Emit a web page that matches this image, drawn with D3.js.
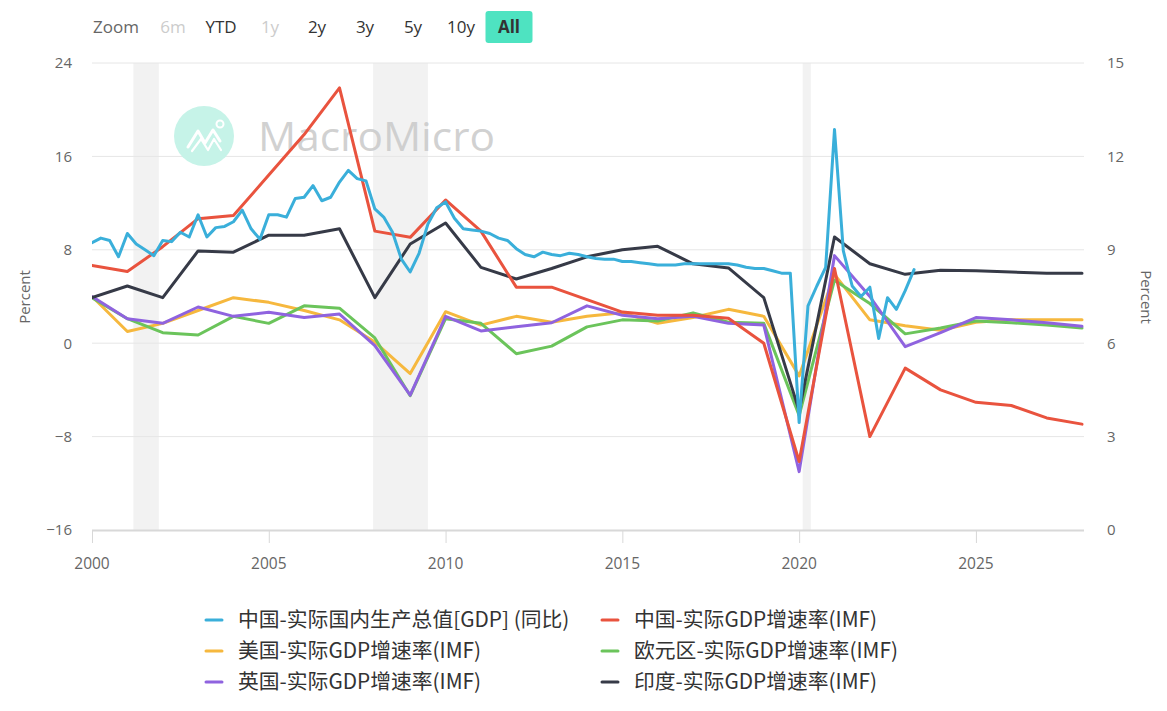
<!DOCTYPE html>
<html>
<head>
<meta charset="utf-8">
<script src="https://cdn.jsdelivr.net/npm/d3@7"></script>
<style>
  html, body { margin: 0; padding: 0; background: #fff; }
  svg { display: block; font-family: "Open Sans", "Noto Sans CJK SC", sans-serif; }
</style>
</head>
<body>
<svg id="chart" width="1167" height="711"></svg>
<script>
// ---------- DATA ----------
const imfYears = [2000,2001,2002,2003,2004,2005,2006,2007,2008,2009,2010,2011,2012,2013,2014,2015,2016,2017,2018,2019,2020,2021,2022,2023,2024,2025,2026,2027,2028];
const chinaIMF = [8.5,8.3,9.1,10.0,10.1,11.4,12.7,14.2,9.6,9.4,10.6,9.6,7.8,7.8,7.4,7.0,6.9,6.9,6.8,6.0,2.2,8.4,3.0,5.2,4.5,4.1,4.0,3.6,3.4];
const usIMF    = [4.0,1.0,1.7,2.8,3.9,3.5,2.8,2.0,0.1,-2.6,2.7,1.55,2.3,1.8,2.3,2.6,1.7,2.2,2.9,2.3,-2.8,5.9,2.0,1.5,1.1,1.8,2.0,2.0,2.0];
const euroIMF  = [3.9,2.1,0.9,0.7,2.3,1.7,3.2,3.0,0.45,-4.5,2.1,1.7,-0.9,-0.25,1.4,2.0,1.9,2.6,1.8,1.7,-6.2,5.4,3.4,0.8,1.3,1.9,1.75,1.55,1.3];
const ukIMF    = [4.0,2.1,1.7,3.1,2.3,2.65,2.2,2.5,-0.2,-4.45,2.3,1.05,1.4,1.75,3.2,2.4,2.1,2.3,1.7,1.55,-11.0,7.5,4.0,-0.3,0.9,2.2,2.0,1.75,1.45];
const indiaIMF = [3.9,4.9,3.9,7.9,7.8,9.25,9.25,9.8,3.9,8.5,10.3,6.5,5.5,6.4,7.4,8.0,8.3,6.8,6.45,3.9,-5.8,9.1,6.8,5.9,6.25,6.2,6.1,6.0,6.0];

// China quarterly real GDP yoy, 2000Q1 .. 2023Q2
const chinaQStartYear = 2000;
const chinaQuarterly = [
  8.6, 9.0, 8.8, 7.4,
  9.4, 8.5, 8.0, 7.5,
  8.8, 8.7, 9.5, 9.1,
  11.0, 9.1, 9.9, 10.0,
  10.4, 11.4, 9.8, 8.9,
  11.0, 11.0, 10.8, 12.4,
  12.5, 13.5, 12.2, 12.5,
  13.8, 14.8, 14.1, 13.9,
  11.5, 10.8, 9.5, 7.2,
  6.1, 7.7, 10.2, 11.6,
  12.1, 10.7, 9.8, 9.7,
  9.6, 9.4, 9.0, 8.8,
  8.1, 7.6, 7.4, 7.8,
  7.6, 7.5, 7.7, 7.6,
  7.4, 7.25, 7.2, 7.2,
  7.0, 7.0, 6.9, 6.8,
  6.7, 6.7, 6.7, 6.8,
  6.8, 6.8, 6.8, 6.8,
  6.8, 6.7, 6.5, 6.4,
  6.4, 6.2, 6.0, 6.0,
  -6.8, 3.2, 4.9, 6.5,
  18.3, 7.9, 4.9, 4.0,
  4.8, 0.4, 3.9, 2.9,
  4.5, 6.3
];

// recession bands (decimal years)
const recessions = [[2001.17, 2001.89], [2007.95, 2009.5], [2020.1, 2020.33]];

const xTicks = [2000, 2005, 2010, 2015, 2020, 2025];
const leftTicks = [-16, -8, 0, 8, 16, 24];
const rightTicks = [0, 3, 6, 9, 12, 15];
const zoomButtons = ["6m", "YTD", "1y", "2y", "3y", "5y", "10y", "All"];
const disabledButtons = ["6m", "1y"];

const seriesDefs = [
  {name: "中国-实际国内生产总值[GDP] (同比)", color: "#3aafda", axis: "left", quarterly: true},
  {name: "中国-实际GDP增速率(IMF)", color: "#e9533e", axis: "right", values: chinaIMF},
  {name: "美国-实际GDP增速率(IMF)", color: "#f6b83e", axis: "left", values: usIMF},
  {name: "欧元区-实际GDP增速率(IMF)", color: "#6bc45b", axis: "left", values: euroIMF},
  {name: "英国-实际GDP增速率(IMF)", color: "#8f63df", axis: "left", values: ukIMF},
  {name: "印度-实际GDP增速率(IMF)", color: "#363a47", axis: "left", values: indiaIMF}
];

// ---------- LAYOUT ----------
const svg = d3.select("#chart");
const plot = {left: 92, right: 1082, top: 63, bottom: 530};

const x = d3.scaleLinear().domain([2000, 2028]).range([plot.left, plot.right]);
const yL = d3.scaleLinear().domain([-16, 24]).range([plot.bottom, plot.top]);
const yR = d3.scaleLinear().domain([0, 15]).range([plot.bottom, plot.top]);

// recession bands
svg.append("g").selectAll("rect").data(recessions).join("rect")
  .attr("x", d => x(d[0])).attr("width", d => x(d[1]) - x(d[0]))
  .attr("y", plot.top).attr("height", plot.bottom - plot.top)
  .attr("fill", "#f2f2f2");

// gridlines
svg.append("g").selectAll("line").data(leftTicks.filter(t => t !== -16)).join("line")
  .attr("x1", plot.left).attr("x2", plot.right + 2)
  .attr("y1", d => yL(d)).attr("y2", d => yL(d))
  .attr("stroke", "#e6e6e6").attr("stroke-width", 1);

// watermark
const wm = svg.append("g");
wm.append("circle").attr("cx", 204).attr("cy", 136).attr("r", 30).attr("fill", "#c6f3e8");
wm.append("polyline")
  .attr("points", "188,147 198,131 205,143 213,130 220,141")
  .attr("fill", "none").attr("stroke", "#fff").attr("stroke-width", 3).attr("stroke-linejoin", "round").attr("stroke-linecap","round");
wm.append("polyline")
  .attr("points", "192,151 201,139 208,150 214,139 221,150")
  .attr("fill", "none").attr("stroke", "#fff").attr("stroke-width", 2.2).attr("stroke-linejoin", "round").attr("stroke-linecap","round");
wm.append("circle").attr("cx", 220).attr("cy", 124).attr("r", 3.5).attr("fill", "none").attr("stroke", "#fff").attr("stroke-width", 2);
wm.append("text").attr("x", 258).attr("y", 151).text("MacroMicro")
  .attr("font-size", 40).attr("fill", "#c9c9c9").attr("fill-opacity", 0.85)
  .attr("textLength", 237).attr("lengthAdjust", "spacingAndGlyphs")
  .attr("font-family", "'Open Sans', sans-serif");

// x axis (ticks and line from d3.axisBottom, labels placed with the same scale)
const xAxis = d3.axisBottom(x).tickValues(xTicks).tickFormat("").tickSize(13).tickSizeOuter(0);
const gx = svg.append("g").attr("transform", `translate(0,${plot.bottom})`).call(xAxis);
gx.select(".domain").attr("stroke", "#d8d8d8").attr("stroke-width", 2)
  .attr("d", `M${plot.left},0.5H${plot.right + 2}`);
gx.selectAll(".tick line").attr("stroke", "#d8d8d8");
svg.append("g").selectAll("text").data(xTicks).join("text")
  .attr("x", d => x(d)).attr("y", 569)
  .attr("text-anchor", "middle").attr("fill", "#666")
  .attr("font-size", 15.5).attr("font-family", "'Open Sans', sans-serif")
  .text(d => d3.format("d")(d));

// left axis
const gl = svg.append("g").attr("transform", `translate(${plot.left},0)`)
  .call(d3.axisLeft(yL).tickValues(leftTicks).tickSize(0).tickPadding(20));
gl.attr("font-size", 15).attr("font-family", "'Open Sans', sans-serif");
gl.select(".domain").remove();
gl.selectAll(".tick text").attr("fill", "#666");

// right axis
const gr = svg.append("g").attr("transform", `translate(${plot.right},0)`)
  .call(d3.axisRight(yR).tickValues(rightTicks).tickSize(0).tickPadding(25));
gr.attr("font-size", 15).attr("font-family", "'Open Sans', sans-serif");
gr.select(".domain").remove();
gr.selectAll(".tick text").attr("fill", "#666");

svg.append("text").attr("transform", "translate(30,297) rotate(-90)")
  .attr("text-anchor", "middle").attr("fill", "#666").attr("font-size", 15).text("Percent");
svg.append("text").attr("transform", "translate(1141,297) rotate(90)")
  .attr("text-anchor", "middle").attr("fill", "#666").attr("font-size", 15).text("Percent");

// clip
svg.append("clipPath").attr("id", "clip").append("rect")
  .attr("x", plot.left).attr("y", plot.top - 5).attr("width", plot.right - plot.left + 3).attr("height", plot.bottom - plot.top + 10);

const lines = svg.append("g").attr("clip-path", "url(#clip)");

// draw order: IMF series then quarterly
const order = [2, 3, 4, 5, 1, 0];
order.forEach(i => {
  const s = seriesDefs[i];
  let pts;
  if (s.quarterly) {
    pts = chinaQuarterly.map((v, k) => [chinaQStartYear + k / 4, v]);
  } else {
    pts = imfYears.map((yr, k) => [yr, s.values[k]]);
  }
  const ys = s.axis === "right" ? yR : yL;
  const line = d3.line().x(d => x(d[0])).y(d => ys(d[1]));
  lines.append("path").datum(pts).attr("d", line)
    .attr("fill", "none").attr("stroke", s.color).attr("stroke-width", 3)
    .attr("stroke-linejoin", "round").attr("stroke-linecap", "round");
});

// legend
const legendPos = [[206, 620], [602, 620], [206, 651], [602, 651], [206, 682], [602, 682]];
const lg = svg.append("g");
seriesDefs.forEach((s, i) => {
  const [lx, ly] = legendPos[i];
  lg.append("line").attr("x1", lx).attr("x2", lx + 16).attr("y1", ly).attr("y2", ly)
    .attr("stroke", s.color).attr("stroke-width", 3).attr("stroke-linecap", "round");
  lg.append("text").attr("x", lx + 32).attr("y", ly).attr("dy", "0.36em")
    .attr("fill", "#333").attr("font-size", 20.8)
    .attr("font-family", "'Noto Sans CJK SC', 'Open Sans', sans-serif")
    .text(s.name);
});

// zoom buttons
const zb = svg.append("g").attr("font-size", 17);
zb.append("text").attr("x", 93).attr("y", 33).attr("fill", "#666").text("Zoom");
const btnCenters = [173, 221, 270, 317, 365, 413, 461, 509];
zoomButtons.forEach((b, i) => {
  const cx = btnCenters[i];
  if (b === "All") {
    zb.append("rect").attr("x", cx - 23.5).attr("y", 11).attr("width", 47).attr("height", 32)
      .attr("rx", 3).attr("fill", "#4ee3c1");
  }
  zb.append("text").attr("x", cx).attr("y", 33).attr("text-anchor", "middle")
    .attr("fill", disabledButtons.includes(b) ? "#cccccc" : "#333")
    .attr("font-weight", b === "All" ? "bold" : "normal")
    .text(b);
});
</script>
</body>
</html>
